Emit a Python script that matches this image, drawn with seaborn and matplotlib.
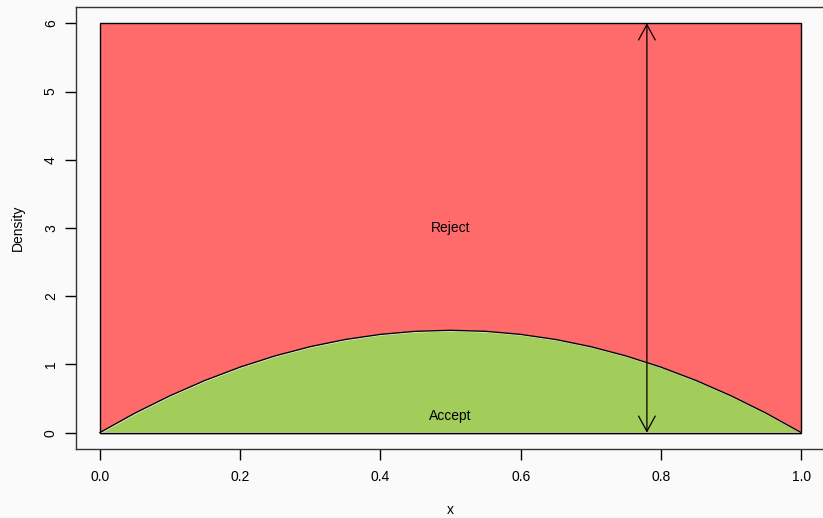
import matplotlib
matplotlib.use("Agg")
import matplotlib.pyplot as plt
import seaborn as sns
import pandas as pd

# density curve points
x_vals = [0.0, 0.05, 0.1, 0.15, 0.2, 0.25, 0.3, 0.35, 0.4, 0.45, 0.5,
          0.55, 0.6, 0.65, 0.7, 0.75, 0.8, 0.85, 0.9, 0.95, 1.0]
dens = [0.0, 0.285, 0.54, 0.765, 0.96, 1.125, 1.26, 1.365, 1.44, 1.485, 1.5,
        1.485, 1.44, 1.365, 1.26, 1.125, 0.96, 0.765, 0.54, 0.285, 0.0]
box_top = 6
arrow_x = 0.78
x_ticks = [0.0, 0.2, 0.4, 0.6, 0.8, 1.0]
y_ticks = [0, 1, 2, 3, 4, 5, 6]
labels = {"Reject": (0.5, 3.0), "Accept": (0.5, 0.25)}

df = pd.DataFrame({"x": x_vals, "density": dens})

sns.set_style("white")
plt.rcParams["font.family"] = ["Liberation Sans", "DejaVu Sans"]
plt.rcParams["text.color"] = "black"
plt.rcParams["axes.labelcolor"] = "black"

fig = plt.figure(figsize=(8.23, 5.18), dpi=100, facecolor="#fafafa")
ax = fig.add_axes([0.0923, 0.1332, 0.9102, 0.8533])
ax.set_facecolor("#fafafa")

red = "#ff6a6a"
green = "#a2cd5a"

ax.fill([0, 1, 1, 0], [0, 0, box_top, box_top], facecolor=red,
        edgecolor="black", linewidth=1, zorder=1)
ax.fill_between(df["x"], 0, df["density"], facecolor=green, zorder=2)
sns.lineplot(data=df, x="x", y="density", color="black", linewidth=1,
             ax=ax, zorder=3)
ax.plot([0, 1], [0, 0], color="black", linewidth=1, zorder=3)

ax.annotate("", xy=(arrow_x, box_top), xytext=(arrow_x, 0),
            arrowprops=dict(arrowstyle="<->,head_length=1.1,head_width=0.6",
                            color="black", linewidth=0.9,
                            shrinkA=0, shrinkB=0), zorder=4)

for txt, (tx, ty) in labels.items():
    ax.text(tx, ty, txt, ha="center", va="center", fontsize=10,
            color="black", zorder=5)

ax.set_xlim(-0.034, 1.034)
ax.set_ylim(-0.24, 6.24)
ax.set_xticks(x_ticks)
ax.set_xticklabels([f"{v:.1f}" for v in x_ticks])
ax.set_yticks(y_ticks)
ax.set_yticklabels([str(v) for v in y_ticks], rotation=90, va="center")
ax.tick_params(direction="out", length=8, width=1, colors="black",
               labelsize=10, left=True, bottom=True)
ax.tick_params(axis="x", pad=7)
ax.tick_params(axis="y", pad=5)
ax.set_xlabel("x", fontsize=10, labelpad=14)
ax.set_ylabel("Density", fontsize=10, labelpad=14)

for s in ax.spines.values():
    s.set_color("#333333")
    s.set_linewidth(1)

fig.savefig("out.png", dpi=100, facecolor=fig.get_facecolor())
